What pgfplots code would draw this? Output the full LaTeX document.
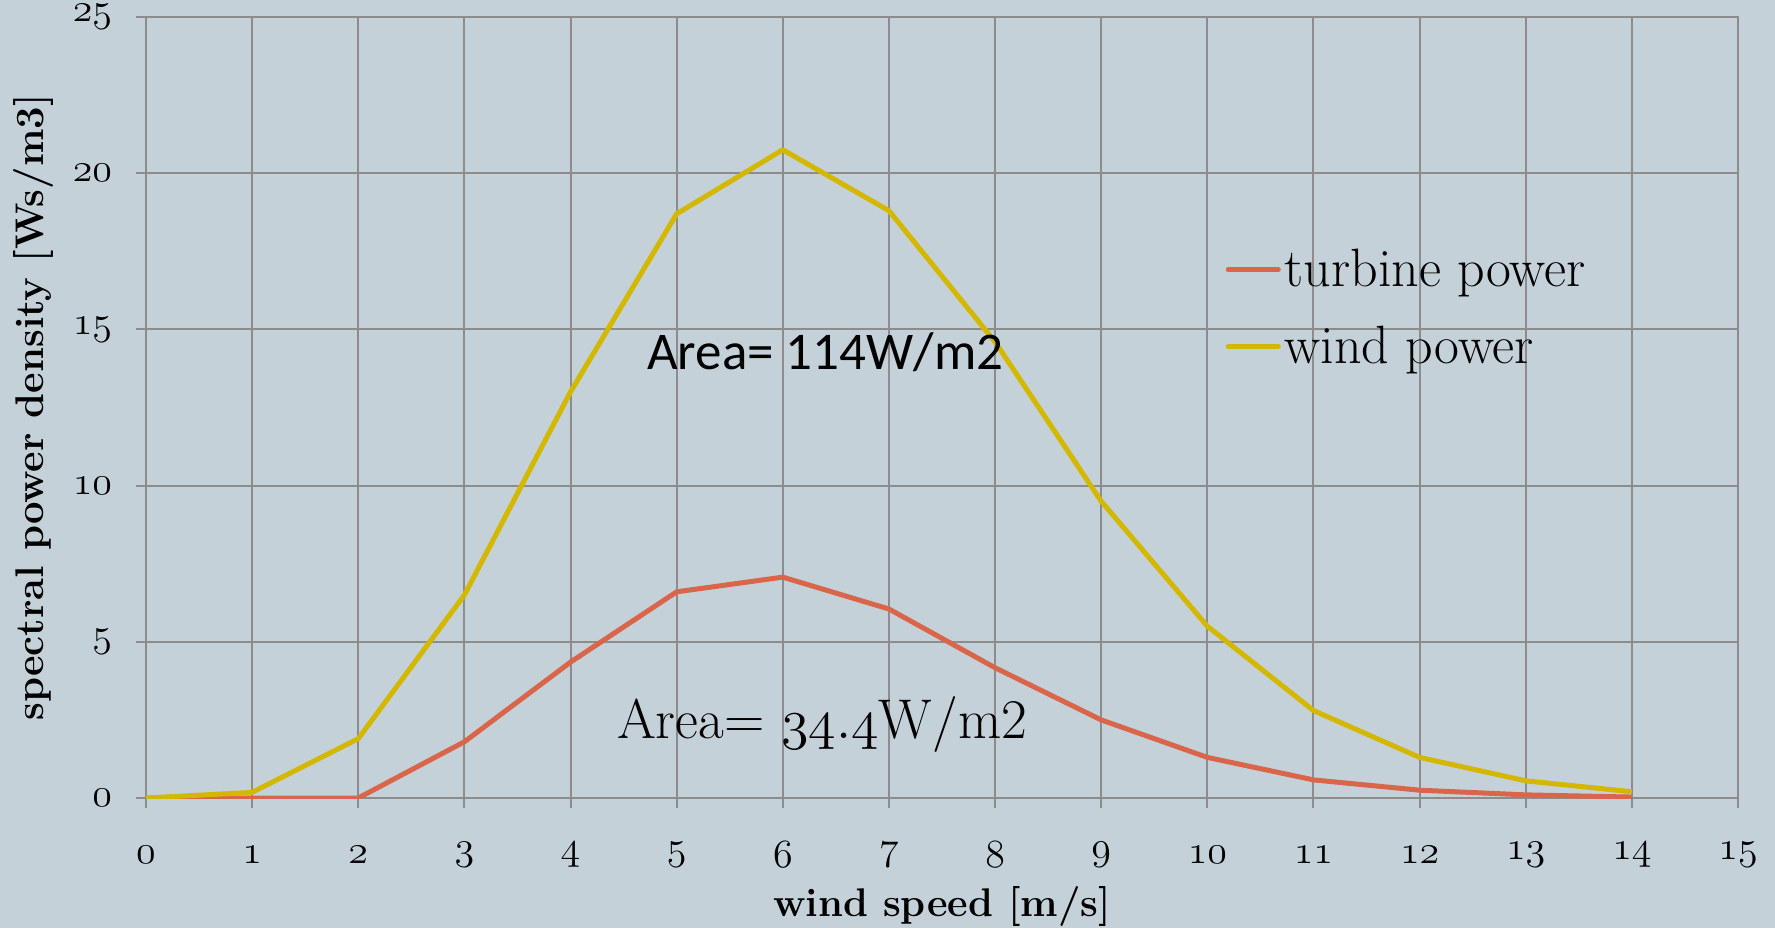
\RequirePackage{fix-cm}
\documentclass[border=0pt]{standalone}
\usepackage{pgfplots}
\pgfplotsset{compat=1.18}
\usepackage{fontspec}
\newfontfamily\calibri{Carlito}
\definecolor{bg}{HTML}{C5D1D8}
\definecolor{gridc}{HTML}{8C8C8C}
\definecolor{turb}{HTML}{D9664A}
\definecolor{wind}{HTML}{D4B800}
\newcommand{\osn}[1]{$\mathnormal{#1}$}
\begin{document}
\begin{tikzpicture}
\fill[bg] (-73pt,-65pt) rectangle (814.5pt,399pt);
\useasboundingbox (-73pt,-65pt) rectangle (814.5pt,399pt);
\begin{axis}[
  at={(0,0)}, anchor=south west,
  scale only axis, width=796pt, height=390.5pt,
  xmin=0, xmax=15, ymin=0, ymax=25,
  xtick={0,...,15}, ytick={0,5,...,25},
  xticklabels={\osn{0},\osn{1},\osn{2},\osn{3},\osn{4},\osn{5},\osn{6},\osn{7},\osn{8},\osn{9},\osn{10},\osn{11},\osn{12},\osn{13},\osn{14},\osn{15}},
  yticklabels={\osn{0},\osn{5},\osn{10},\osn{15},\osn{20},\osn{25}},
  tick label style={font=\fontsize{20}{22}\selectfont},
  xticklabel style={anchor=center, yshift=-23.5pt},
  yticklabel style={anchor=east, xshift=-8.5pt},
  tick align=outside, xtick pos=bottom, ytick pos=left,
  major tick length=5pt,
  every tick/.style={gridc, line width=1pt},
  axis line style={gridc, line width=1pt},
  grid=major, major grid style={gridc, line width=1pt},
  axis background/.style={fill=bg},
  xlabel={wind speed [m/s]}, ylabel={spectral power density [Ws/m3]},
  every axis x label/.style={at={(rel axis cs:0.5,0)}, yshift=-54pt, anchor=center, font=\bfseries\fontsize{20}{22}\selectfont},
  every axis y label/.style={at={(rel axis cs:0,0.5)}, xshift=-56pt, rotate=90, anchor=center, font=\bfseries\fontsize{20}{22}\selectfont},
  legend style={at={(axis cs:10.17,17.7)}, anchor=north west, draw=none, fill=none,
    font=\fontsize{27}{32}\selectfont, row sep=14pt, inner sep=0pt},
  legend cell align=left,
  legend image code/.code={\draw[#1, line width=2.5pt, line cap=round] (0pt,0pt) -- (25pt,0pt);},
]
\addplot[turb, line width=2.5pt, line join=round] coordinates {
(0,0) (1,0) (2,0) (3,1.8) (4,4.35) (5,6.6) (6,7.07) (7,6.05) (8,4.17) (9,2.5) (10,1.3) (11,0.58) (12,0.25) (13,0.1) (14,0.03)};
\addlegendentry{turbine power}
\addplot[wind, line width=2.5pt, line join=round] coordinates {
(0,0) (1,0.18) (2,1.9) (3,6.5) (4,13.0) (5,18.7) (6,20.75) (7,18.8) (8,14.6) (9,9.5) (10,5.5) (11,2.8) (12,1.3) (13,0.55) (14,0.2)};
\addlegendentry{wind power}
\node[font=\calibri\fontsize{26.5}{30}\selectfont] at (axis cs:6.40,14.28) {Area= 114W/m2};
\node[font=\fontsize{28}{32}\selectfont] at (axis cs:6.37,2.35) {Area= \osn{34.4}W/m2};
\end{axis}
\end{tikzpicture}
\end{document}
